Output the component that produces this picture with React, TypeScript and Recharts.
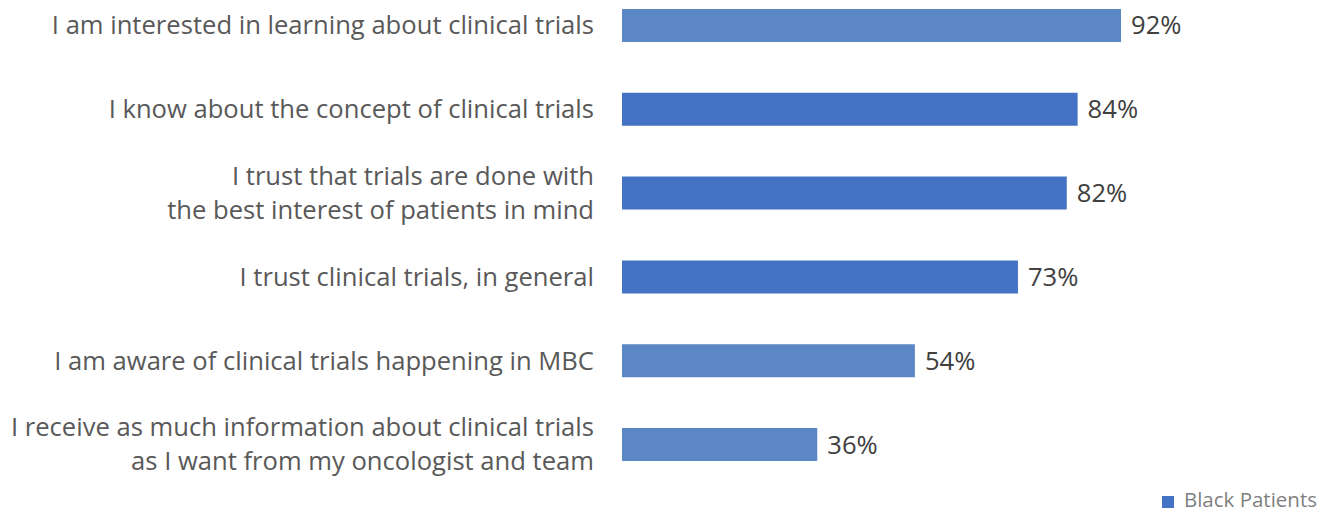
import React from "react";
import { BarChart, Bar, XAxis, YAxis, Cell, LabelList, Legend } from "recharts";

const CATEGORIES = [
  "I am interested in learning about clinical trials",
  "I know about the concept of clinical trials",
  "I trust that trials are done with\nthe best interest of patients in mind",
  "I trust clinical trials, in general",
  "I am aware of clinical trials happening in MBC",
  "I receive as much information about clinical trials\nas I want from my oncologist and team",
];
const VALUES = [92, 84, 82, 73, 54, 36];
const SERIES_NAME = "Black Patients";
const ROW_COLORS = ["#5B87C4", "#4472C4", "#4472C4", "#4472C4", "#5B87C4", "#5B87C4"];

const data = CATEGORIES.map((label, i) => ({ label, value: VALUES[i] }));

const FONT = "'Open Sans', sans-serif";

const CategoryTick = (props: any) => {
  const { x, y, payload } = props;
  const lines: string[] = String(payload.value).split("\n");
  const lh = 34;
  const start = -((lines.length - 1) * lh) / 2;
  return (
    <text x={x} y={y} textAnchor="end" fill="#595959" fontSize={25.6} fontFamily={FONT}>
      {lines.map((l, i) => (
        <tspan key={i} x={x} dy={i === 0 ? start + 8.5 : lh}>
          {l}
        </tspan>
      ))}
    </text>
  );
};

export default function App() {
  return (
    <div style={{ position: "absolute", left: 0, top: 0, width: 1333, height: 512, background: "#fff" }}>
      <BarChart
        width={1333}
        height={512}
        data={data}
        layout="vertical"
        margin={{ top: -16.1, right: 168.6, bottom: -0.9, left: 0 }}
        barCategoryGap={0}
      >
        <XAxis type="number" domain={[0, 100]} hide />
        <YAxis
          type="category"
          dataKey="label"
          width={622}
          axisLine={false}
          tickLine={false}
          tickSize={0}
          tickMargin={28}
          tick={<CategoryTick />}
          interval={0}
        />
        <Legend
          verticalAlign="bottom"
          align="right"
          iconType="square"
          iconSize={12}
          height={26}
          wrapperStyle={{ right: 6, bottom: 0, fontFamily: FONT, fontSize: 20.5, lineHeight: "26px" }}
          formatter={(v: any) => <span style={{ color: "#7F7F7F", marginLeft: 6 }}>{v}</span>}
        />
        <Bar dataKey="value" name={SERIES_NAME} fill="#4472C4" barSize={33} isAnimationActive={false}>
          {data.map((d, i) => (
            <Cell key={i} fill={ROW_COLORS[i]} />
          ))}
          <LabelList
            dataKey="value"
            position="right"
            offset={10}
            formatter={(v: any) => `${v}%`}
            style={{ fill: "#404040", fontSize: 25.6, fontFamily: FONT }}
          />
        </Bar>
      </BarChart>
    </div>
  );
}
